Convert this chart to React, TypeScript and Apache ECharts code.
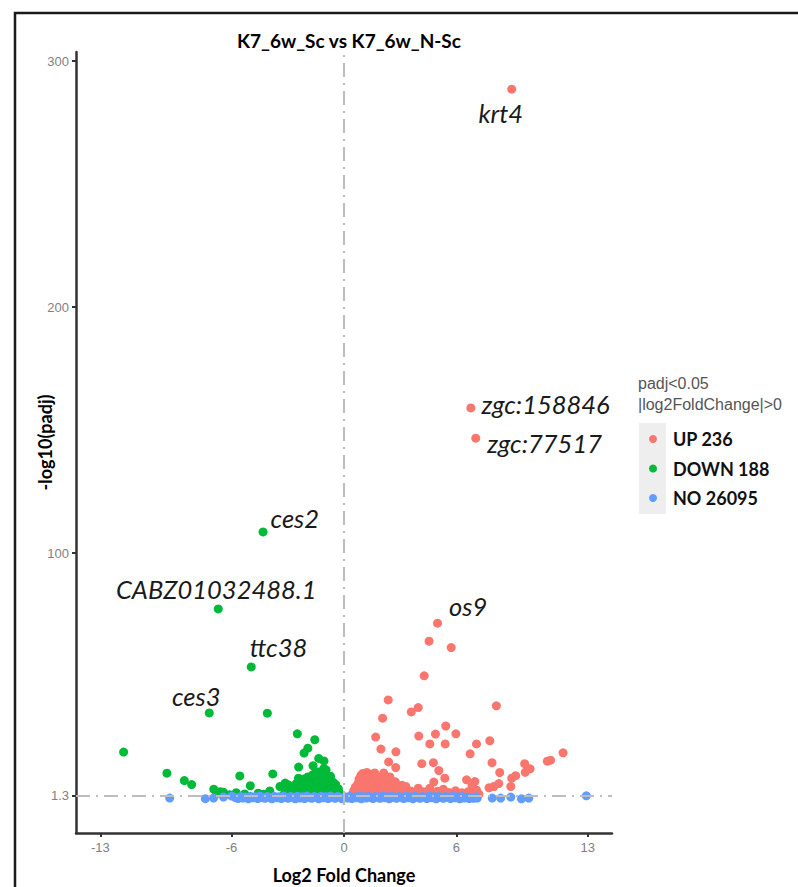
import React, { useEffect, useRef } from "react";
import * as echarts from "echarts";

const chartTitle = "K7_6w_Sc vs K7_6w_N-Sc";
const xTicks = [-13, -6, 0, 6, 13];
const yTicks = [1.3, 100, 200, 300];
const seriesNames = ["UP 236", "DOWN 188", "NO 26095"];
const legendTitle = "padj<0.05\n|log2FoldChange|>0";
const padjLine = 1.3;

const upGenes: [string, number, number][] = [
  ["krt4", 8.95, 288.6],
  ["zgc:158846", 6.77, 159.0],
  ["zgc:77517", 7.03, 146.7],
  ["os9", 4.99, 71.5],
];
const downGenes: [string, number, number][] = [
  ["ces2", -4.32, 108.6],
  ["CABZ01032488.1", -6.71, 77.3],
  ["ttc38", -4.95, 53.7],
  ["ces3", -7.19, 35.0],
];

const upPoints: number[][] = [
  [4.54, 64.2], [5.72, 61.6], [4.28, 50.1], [2.36, 40.3], [8.13, 37.9], [3.96, 37.2], [3.59, 35.4],
  [2.06, 32.9], [5.43, 29.7], [1.69, 25.2], [3.99, 25.6], [4.88, 26.4], [5.97, 26.5], [1.97, 20.3],
  [4.58, 22.4], [5.4, 22.4], [7.07, 22.4], [7.78, 23.7], [2.77, 19.2], [6.73, 18.4], [2.38, 15.1],
  [4.15, 14.4], [4.77, 14.8], [2.76, 12.8], [7.9, 14.8], [11.69, 18.8], [11.02, 15.8], [10.85, 15.4],
  [9.64, 14.4], [9.93, 12.3], [9.67, 10.9], [9.16, 9.5], [8.95, 8.5], [8.9, 5.1], [8.31, 10.8],
  [8.26, 6.3], [8.0, 5.1], [7.74, 4.6], [5.06, 11.6], [5.38, 8.5], [4.79, 6.9], [6.54, 7.8],
  [6.98, 7.1], [6.83, 5.4], [7.07, 3.7],
  [0.45, 2.1], [0.52, 3.4], [0.6, 4.8], [0.68, 2.6], [0.74, 6.2], [0.8, 8.1], [0.86, 3.9], [0.9, 9.6],
  [0.95, 5.3], [1.0, 10.4], [1.04, 7.2], [1.08, 2.3], [1.12, 8.8], [1.18, 4.4], [1.22, 10.8],
  [1.27, 6.1], [1.31, 9.3], [1.36, 3.1], [1.4, 7.7], [1.45, 10.1], [1.5, 5.4], [1.55, 8.6], [1.6, 2.7],
  [1.64, 10.6], [1.69, 6.8], [1.74, 4.1], [1.78, 9.0], [1.84, 7.4], [1.9, 6.6], [1.95, 3.5],
  [2.0, 5.6], [2.06, 8.9], [2.12, 10.6], [2.18, 4.6], [2.25, 7.8], [2.3, 2.6], [2.38, 6.2],
  [2.45, 9.0], [2.5, 4.1], [2.58, 5.9], [2.66, 3.1], [2.74, 7.0], [2.82, 4.5], [2.9, 2.4], [3.0, 3.7],
  [3.1, 5.6], [3.2, 2.2],
  [3.3, 5.1], [3.42, 2.2], [3.55, 3.3], [3.68, 1.9], [3.8, 2.8], [3.96, 4.4], [4.1, 2.1], [4.25, 3.0],
  [4.4, 1.8], [4.58, 4.4], [4.7, 2.5], [4.85, 1.9], [5.0, 3.2], [5.15, 2.2], [5.3, 4.0], [5.45, 1.8],
  [5.6, 2.7], [5.78, 2.0], [5.95, 3.4], [6.1, 1.9], [6.28, 2.6], [6.45, 2.0], [6.62, 3.0], [6.8, 1.8],
  [7.0, 2.3], [7.2, 2.0],
];

const downPoints: number[][] = [
  [-4.09, 34.9], [-11.76, 19.1], [-2.49, 26.5], [-1.56, 24.1], [-1.93, 20.7], [-2.13, 18.7],
  [-1.35, 16.5], [-1.07, 15.5], [-2.42, 13.0], [-1.65, 13.5], [-0.96, 11.9], [-9.45, 10.5],
  [-8.52, 7.5], [-8.13, 5.9], [-5.56, 9.4], [-3.8, 10.2], [-5.0, 5.4], [-3.14, 6.5], [-2.43, 8.5],
  [-6.95, 4.0], [-6.6, 3.0], [-6.44, 2.8], [-6.8, 2.2], [-4.58, 2.4], [-3.96, 3.3], [-4.3, 2.0],
  [-3.42, 5.1], [-2.97, 5.8], [-5.3, 2.1], [-6.1, 1.8], [-5.75, 2.6],
  [-3.2, 2.0], [-3.05, 3.4], [-2.92, 2.4], [-2.8, 4.6], [-2.7, 5.2], [-2.62, 3.0], [-2.55, 6.3],
  [-2.46, 4.2], [-2.38, 7.6], [-2.3, 2.4], [-2.22, 5.8], [-2.15, 8.2], [-2.08, 3.6], [-2.0, 6.9],
  [-1.93, 9.0], [-1.86, 4.8], [-1.8, 8.0], [-1.74, 2.7], [-1.68, 9.8], [-1.62, 6.2], [-1.56, 10.3],
  [-1.5, 4.1], [-1.44, 8.7], [-1.38, 11.0], [-1.32, 6.8], [-1.26, 2.9], [-1.2, 10.6], [-1.14, 8.1],
  [-1.08, 12.4], [-1.02, 5.3], [-0.96, 10.0], [-0.9, 3.6], [-0.84, 8.6], [-0.78, 6.4], [-0.72, 9.3],
  [-0.66, 2.5], [-0.6, 7.0], [-0.55, 5.1], [-0.5, 3.4], [-0.45, 6.0], [-0.4, 3.7], [-0.35, 2.2],
  [-0.3, 4.2], [-0.25, 2.6], [-1.9, 5.8], [-1.46, 6.0], [-1.1, 4.7], [-0.7, 4.3], [-2.5, 2.2],
  [-1.3, 3.2],
];

const noPoints: number[][] = [
  [-9.3, 0.4], [-7.4, 0.15], [-6.96, 0.4], [-6.43, 0.8], [-5.99, 1.2],
  [7.11, 0.4], [7.91, 0.4], [8.36, 0.4], [8.9, 0.8], [9.47, 0.1], [9.86, 0.4], [12.93, 1.3],
  [-5.8, 0.6], [-5.65, 0.2], [-5.5, 1.0], [-5.38, 0.4], [-5.25, 0.8], [-5.1, 0.1], [-4.98, 1.1],
  [-4.85, 0.5], [-4.72, 0.9], [-4.6, 0.2], [-4.48, 1.2], [-4.35, 0.6], [-4.22, 0.3], [-4.1, 1.0],
  [-3.98, 0.7], [-3.85, 0.1], [-3.72, 1.1], [-3.6, 0.5], [-3.48, 0.9], [-3.35, 0.2], [-3.22, 1.2],
  [-3.1, 0.6], [-2.98, 0.3], [-2.85, 1.0], [-2.72, 0.7], [-2.6, 0.1], [-2.48, 1.1], [-2.35, 0.4],
  [-2.22, 0.9], [-2.1, 0.2], [-1.98, 1.2], [-1.85, 0.6], [-1.72, 0.3], [-1.6, 1.0], [-1.48, 0.7],
  [-1.35, 0.1], [-1.22, 1.1], [-1.1, 0.5], [-0.98, 0.9], [-0.85, 0.2], [-0.72, 1.2], [-0.6, 0.6],
  [-0.48, 0.3], [-0.35, 1.0], [-0.22, 0.7], [-0.1, 0.1], [0.05, 0.9], [0.18, 0.4], [0.3, 1.1],
  [0.42, 0.2], [0.55, 0.8], [0.68, 0.5], [0.8, 1.2], [0.92, 0.1], [1.05, 0.9], [1.18, 0.4],
  [1.3, 1.1], [1.42, 0.6], [1.55, 0.2], [1.68, 1.0], [1.8, 0.7], [1.92, 0.3], [2.05, 1.2],
  [2.18, 0.5], [2.3, 0.9], [2.42, 0.1], [2.55, 1.1], [2.68, 0.6], [2.8, 0.3], [2.92, 1.0],
  [3.05, 0.7], [3.18, 0.2], [3.3, 1.2], [3.42, 0.5], [3.55, 0.9], [3.68, 0.1], [3.8, 1.1],
  [3.92, 0.6], [4.05, 0.3], [4.18, 1.0], [4.3, 0.7], [4.42, 0.2], [4.55, 1.2], [4.68, 0.5],
  [4.8, 0.9], [4.92, 0.1], [5.05, 1.1], [5.18, 0.6], [5.3, 0.3], [5.42, 1.0], [5.55, 0.7],
  [5.68, 0.2], [5.8, 1.2], [5.92, 0.5], [6.05, 0.9], [6.18, 0.1], [6.3, 1.0], [6.42, 0.4],
  [6.55, 0.8], [6.68, 0.2], [6.8, 0.6], [6.92, 0.3], [7.05, 0.9],
];

// label placement (style only)
const labelPlacement: Record<string, any> = {
  "krt4": { position: "inside", offset: [-11, 24] },
  "zgc:158846": { position: "right", distance: 6, offset: [0, -4] },
  "zgc:77517": { position: "right", distance: 7, offset: [0, 5] },
  "os9": { position: "right", distance: 7, offset: [0, -17] },
  "ces2": { position: "right", distance: 3, offset: [0, -14] },
  "CABZ01032488.1": { position: "inside", offset: [-2, -20] },
  "ttc38": { position: "right", distance: -6, offset: [0, -20] },
  "ces3": { position: "inside", offset: [-13, -17] },
};

const COLORS = ["#F8766D", "#00BA38", "#619CFF"];

function geneItems(genes: [string, number, number][]) {
  return genes.map(([name, x, y]) => ({
    name,
    value: [x, y],
    label: {
      show: true,
      formatter: name,
      fontFamily: "Lato",
      fontStyle: "italic",
      fontSize: 25.5,
      color: "#1a1a1a",
      ...labelPlacement[name],
    },
  }));
}

export default function App() {
  const ref = useRef<HTMLDivElement>(null);
  useEffect(() => {
    if (!ref.current) return;
    const chart = echarts.init(ref.current, undefined, { renderer: "svg" });
    const refLine = { color: "#bdbdbd", width: 2, type: [14, 6, 2, 6] as any };
    chart.setOption({
      animation: false,
      backgroundColor: "#ffffff",
      title: {
        text: chartTitle,
        left: 344,
        top: 26,
        textAlign: "center",
        textStyle: { fontFamily: "Lato", fontWeight: "bold", fontSize: 19, color: "#000" },
      },
      grid: { left: 76, right: 186, top: 52, bottom: 54, containLabel: false, outerBoundsMode: "none" },
      xAxis: {
        type: "value",
        min: -14.3,
        max: 14.3,
        name: "Log2 Fold Change",
        nameLocation: "middle",
        nameGap: 33,
        nameTextStyle: { fontFamily: "Lato", fontWeight: "bold", fontSize: 18, color: "#000" },
        axisLine: { show: true, onZero: false, lineStyle: { color: "#333", width: 2.5 } },
        axisTick: { show: true, customValues: xTicks, length: 4, lineStyle: { color: "#333", width: 2 } },
        axisLabel: {
          customValues: xTicks,
          color: "#7f7f7f",
          fontSize: 13,
          fontFamily: "Liberation Sans",
          margin: 8,
        },
        splitLine: { show: false },
      },
      yAxis: {
        type: "value",
        min: -13.8,
        max: 303.7,
        name: "-log10(padj)",
        nameLocation: "middle",
        nameGap: 22,
        nameMoveOverlap: false,
        nameTextStyle: { fontFamily: "Lato", fontWeight: "bold", fontSize: 18, color: "#000" },
        axisLine: { show: true, onZero: false, lineStyle: { color: "#333", width: 2.5 } },
        axisTick: { show: true, customValues: yTicks, length: 4, lineStyle: { color: "#333", width: 2 } },
        axisLabel: {
          customValues: yTicks,
          formatter: (v: number) => String(v),
          color: "#7f7f7f",
          fontSize: 13,
          fontFamily: "Liberation Sans",
          margin: 7,
        },
        splitLine: { show: false },
      },
      legend: {
        data: seriesNames,
        orient: "vertical",
        left: 649,
        top: 429,
        itemWidth: 8,
        itemHeight: 8,
        itemGap: 9.5,
        icon: "circle",
        padding: 0,
        selectedMode: false,
        textStyle: {
          fontFamily: "Lato",
          fontWeight: "bold",
          fontSize: 18,
          color: "#111",
          lineHeight: 20,
          padding: [0, 0, 0, 11],
        },
      },
      graphic: [
        {
          type: "polyline",
          shape: { points: [[15, 887], [15, 13], [798, 13]] },
          style: { stroke: "#1a1a1a", lineWidth: 2.5, fill: "none" },
          silent: true,
        },
        {
          type: "rect",
          shape: { x: 639, y: 423, width: 27, height: 91 },
          style: { fill: "#EEEEEE" },
          z: -1,
          silent: true,
        },
        {
          type: "text",
          x: 638,
          y: 373,
          style: {
            text: legendTitle,
            font: '16px "Liberation Sans"',
            fill: "#555",
            lineHeight: 21,
          },
          silent: true,
        },
      ],
      series: [
        {
          name: seriesNames[0],
          type: "scatter",
          symbolSize: 9,
          itemStyle: { color: COLORS[0], opacity: 1 },
          data: [...upPoints.map((p) => ({ value: p })), ...geneItems(upGenes)],
          z: 2,
        },
        {
          name: seriesNames[1],
          type: "scatter",
          symbolSize: 9,
          itemStyle: { color: COLORS[1], opacity: 1 },
          data: [...downPoints.map((p) => ({ value: p })), ...geneItems(downGenes)],
          z: 2,
        },
        {
          name: seriesNames[2],
          type: "scatter",
          symbolSize: 9,
          itemStyle: { color: COLORS[2], opacity: 1 },
          data: noPoints.map((p) => ({ value: p })),
          z: 3,
          markLine: {
            silent: true,
            symbol: "none",
            z: 5,
            label: { show: false },
            lineStyle: refLine,
            data: [{ xAxis: 0 }, { yAxis: padjLine }],
          },
        },
      ],
    });
    return () => chart.dispose();
  }, []);
  return (
    <div
      ref={ref}
      style={{ position: "absolute", left: 0, top: 0, width: 798, height: 887 }}
    />
  );
}
